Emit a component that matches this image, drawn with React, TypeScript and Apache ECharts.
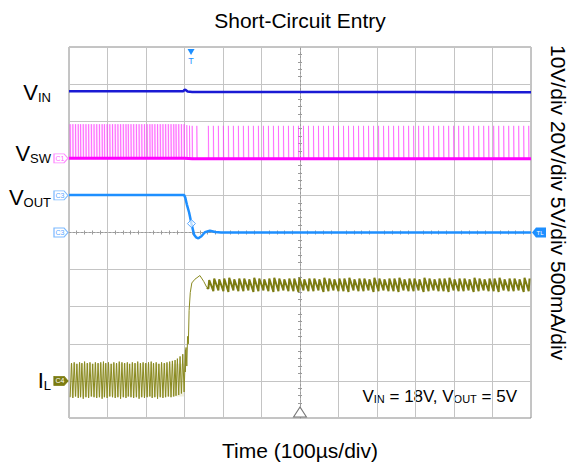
import React, { useEffect, useRef } from "react";
import * as echarts from "echarts";

// ---------- scope settings ----------
const timeMinUs = 0;
const timeMaxUs = 1200;
const timePerDivUs = 100;
const verticalDivs = 10;

const vinVoltsPerDiv = 10;
const vinGroundDiv = 7;
const vswVoltsPerDiv = 20;
const vswGroundDiv = 7;
const voutVoltsPerDiv = 5;
const voutGroundDiv = 5;
const ilAmpsPerDiv = 0.5;
const ilGroundDiv = 1;

const triggerTimeUs = 317;
const centerTimeUs = 600;

// ---------- VIN (V) ----------
const vinPoints: number[][] = [
  [0, 18.1], [150, 18.1], [297, 18.1], [300, 18.5], [303, 18.4], [308, 18.0],
  [320, 17.9], [600, 17.9], [900, 17.85], [1200, 17.8],
];

// ---------- VSW (V) ----------
const vswPreTimes = [
  3, 10, 17, 24, 30, 37, 44, 51, 58, 65, 72, 79, 86, 92, 99, 106, 113, 120, 127, 134, 141, 148,
  154, 161, 168, 175, 182, 189, 196, 203, 210, 216, 223, 230, 237, 244, 251, 258, 265, 272, 278,
  285, 292, 299,
];
const vswPreLevel = 18.4;
const vswEdgePulses: number[][] = [[306, 17.9], [313, 17.6], [320, 17.5], [332, 17.5]];
const vswPostTimes = [
  362, 375, 388, 401, 414, 427, 440, 453, 466, 479, 492, 505, 518, 531, 544, 557, 570, 583, 596,
  609, 622, 635, 648, 661, 674, 687, 700, 713, 726, 739, 752, 765, 778, 791, 804, 817, 830, 843,
  856, 869, 882, 895, 908, 921, 934, 947, 960, 973, 986, 999, 1012, 1025, 1038, 1051, 1064, 1077,
  1090, 1103, 1116, 1129, 1142, 1155, 1168, 1181, 1194,
];
const vswPostLevel = 17.5;
const vswOnTimeUs = 1.2;
const vswBaseline: number[][] = [[0, 0], [300, 0], [320, -0.3], [1200, -0.3]];

// ---------- VOUT (V) ----------
const voutPoints: number[][] = [
  [0, 5.05], [299, 5.05], [302, 4.7], [306, 3.8], [312, 2.7], [318, 1.2], [325, -0.3],
  [330, -0.65], [336, -0.78], [344, -0.5], [353, 0.03], [366, 0.24], [380, 0.06], [395, 0],
  [1200, 0],
];

// ---------- IL (A) ----------
const ilPrePeaks = [
  0.24, 0.25, 0.23, 0.25, 0.24, 0.26, 0.24, 0.25, 0.23, 0.25, 0.24, 0.25, 0.26, 0.24, 0.25, 0.23,
  0.25, 0.24, 0.26, 0.25, 0.24, 0.25, 0.23, 0.25, 0.24, 0.26, 0.24, 0.25, 0.24, 0.25, 0.26, 0.24,
  0.25, 0.23, 0.25, 0.24, 0.25, 0.26, 0.27, 0.28, 0.3, 0.33, 0.36, 0.42,
];
const ilPreValleys = [
  -0.22, -0.23, -0.21, -0.23, -0.22, -0.24, -0.22, -0.23, -0.21, -0.22, -0.23, -0.22, -0.24, -0.22,
  -0.23, -0.21, -0.22, -0.23, -0.22, -0.24, -0.22, -0.23, -0.21, -0.22, -0.23, -0.22, -0.24, -0.22,
  -0.23, -0.22, -0.21, -0.23, -0.22, -0.24, -0.22, -0.23, -0.22, -0.21, -0.22, -0.21, -0.2, -0.19,
  -0.17, -0.15,
];
const ilPrePeakLagUs = 3.5;
const ilPreBandLow = -0.21;
const ilPreBandHigh = 0.23;
const ilRise: number[][] = [
  [302, 0.12], [304, 0.45], [306, 0.2], [308, 0.6], [310, 0.5], [312, 0.95], [315, 1.19],
  [319, 1.32], [327, 1.37], [340, 1.42], [350, 1.34], [358, 1.26],
];
const ilPostPeaks = [
  1.36, 1.38, 1.37, 1.38, 1.39, 1.37, 1.38, 1.38, 1.37, 1.39, 1.38, 1.37, 1.38, 1.39, 1.38, 1.37,
  1.38, 1.38, 1.39, 1.37, 1.38, 1.38, 1.37, 1.39, 1.38, 1.37, 1.38, 1.38, 1.39, 1.37, 1.38, 1.38,
  1.37, 1.39, 1.38, 1.37, 1.38, 1.38, 1.39, 1.37, 1.38, 1.38, 1.37, 1.39, 1.38, 1.37, 1.38, 1.38,
  1.39, 1.37, 1.38, 1.38, 1.37, 1.39, 1.38, 1.37, 1.38, 1.38, 1.39, 1.37, 1.38, 1.38, 1.37, 1.39,
  1.38,
];
const ilPostValleys = [
  1.24, 1.21, 1.22, 1.21, 1.2, 1.22, 1.21, 1.21, 1.22, 1.2, 1.21, 1.22, 1.21, 1.2, 1.21, 1.22,
  1.21, 1.21, 1.2, 1.22, 1.21, 1.21, 1.22, 1.2, 1.21, 1.22, 1.21, 1.21, 1.2, 1.22, 1.21, 1.21,
  1.22, 1.2, 1.21, 1.22, 1.21, 1.21, 1.2, 1.22, 1.21, 1.21, 1.22, 1.2, 1.21, 1.22, 1.21, 1.21,
  1.2, 1.22, 1.21, 1.21, 1.22, 1.2, 1.21, 1.22, 1.21, 1.21, 1.2, 1.22, 1.21, 1.21, 1.22, 1.2,
  1.21,
];
const ilPostRiseUs = 2.2;

// ---------- texts ----------
const titleText = "Short-Circuit Entry";
const xAxisText = "Time (100µs/div)";
const scaleText = "10V/div 20V/div 5V/div 500mA/div";

const FONT = "'Liberation Sans', Arial, Helvetica, sans-serif";
const C_VIN = "#1a1ad4";
const C_VSW = "#ff00ff";
const C_VOUT = "#1e8fff";
const C_IL = "#7c7c12";

function pulseTrain(times: number[], level: number, onUs: number): number[][] {
  const out: number[][] = [];
  times.forEach((t) => {
    out.push([t, 0], [t, level], [t + onUs, level], [t + onUs, 0]);
  });
  return out;
}

function buildOption() {
  const vswPulses: number[][] = [
    ...pulseTrain(vswPreTimes, vswPreLevel, vswOnTimeUs),
  ];
  vswEdgePulses.forEach(([t, l]) => {
    vswPulses.push([t, 0], [t, l], [t + vswOnTimeUs, l], [t + vswOnTimeUs, 0]);
  });
  vswPulses.push(...pulseTrain(vswPostTimes, vswPostLevel, vswOnTimeUs));

  const ilPre: number[][] = [];
  vswPreTimes.forEach((t, i) => {
    ilPre.push([t, ilPreValleys[i]], [t + ilPrePeakLagUs, ilPrePeaks[i]]);
  });
  ilRise.forEach((p) => ilPre.push(p));

  const ilPost: number[][] = [ilRise[ilRise.length - 1]];
  vswPostTimes.forEach((t, i) => {
    ilPost.push([t, ilPostValleys[i]], [t + ilPostRiseUs, ilPostPeaks[i]]);
  });

  const range = (perDiv: number, groundDiv: number) => ({
    min: -groundDiv * perDiv,
    max: (verticalDivs - groundDiv) * perDiv,
  });

  const hiddenY = (perDiv: number, groundDiv: number) => ({
    type: "value",
    show: false,
    ...range(perDiv, groundDiv),
    splitLine: { show: false },
  });

  const chMarker = (coord: number[], text: string, border: string, fill: string, textColor: string) => ({
    coord,
    symbol: "path://M0,0L10,0L14,5L10,10L0,10Z",
    symbolSize: [14, 9],
    symbolOffset: [-8, 0],
    itemStyle: { color: fill, borderColor: border, borderWidth: 1 },
    label: {
      show: true,
      position: "inside",
      formatter: text,
      fontSize: 7,
      color: textColor,
      fontFamily: FONT,
      offset: [-1, 0],
    },
  });

  const centerLine = { show: true, lineStyle: { color: "#9a9a9a", type: [2, 2], width: 1 }, onZero: false };

  const vinRange = range(vinVoltsPerDiv, vinGroundDiv);
  const voutRange = range(voutVoltsPerDiv, voutGroundDiv);

  return {
    animation: false,
    backgroundColor: "#ffffff",
    grid: {
      show: true,
      left: 69,
      top: 47,
      width: 462,
      height: 371,
      borderColor: "#8a8a8a",
      borderWidth: 1,
    },
    xAxis: [
      {
        type: "value",
        min: timeMinUs,
        max: timeMaxUs,
        interval: timePerDivUs,
        axisLine: { show: false, onZero: false },
        axisTick: { show: false },
        axisLabel: { show: false },
        splitLine: { show: true, lineStyle: { color: "#c4c4c4", width: 1 } },
      },
      {
        type: "value",
        min: timeMinUs,
        max: timeMaxUs,
        interval: timePerDivUs,
        position: "bottom",
        offset: -185.5,
        axisLine: centerLine,
        axisTick: { show: false },
        minorTick: { show: true, splitNumber: 5, length: 2, lineStyle: { color: "#9a9a9a" } },
        axisLabel: { show: false },
        splitLine: { show: false },
      },
      {
        type: "value",
        min: timeMinUs,
        max: timeMaxUs,
        interval: timePerDivUs,
        position: "bottom",
        offset: -185.5,
        axisLine: { show: false, onZero: false },
        axisTick: { show: false, inside: true },
        minorTick: { show: true, splitNumber: 5, length: 2, lineStyle: { color: "#9a9a9a" } },
        axisLabel: { show: false },
        splitLine: { show: false },
      },
    ],
    yAxis: [
      {
        type: "value",
        min: 0,
        max: verticalDivs,
        interval: 1,
        axisLine: { show: false, onZero: false },
        axisTick: { show: false },
        axisLabel: { show: false },
        splitLine: { show: true, lineStyle: { color: "#c4c4c4", width: 1 } },
      },
      hiddenY(vinVoltsPerDiv, vinGroundDiv),
      hiddenY(vswVoltsPerDiv, vswGroundDiv),
      hiddenY(voutVoltsPerDiv, voutGroundDiv),
      hiddenY(ilAmpsPerDiv, ilGroundDiv),
      {
        type: "value",
        min: 0,
        max: verticalDivs,
        interval: 1,
        position: "left",
        offset: -231,
        axisLine: centerLine,
        axisTick: { show: false },
        minorTick: { show: true, splitNumber: 5, length: 2, lineStyle: { color: "#9a9a9a" } },
        axisLabel: { show: false },
        splitLine: { show: false },
      },
      {
        type: "value",
        min: 0,
        max: verticalDivs,
        interval: 1,
        position: "left",
        offset: -231,
        axisLine: { show: false, onZero: false },
        axisTick: { show: false, inside: true },
        minorTick: { show: true, splitNumber: 5, length: 2, lineStyle: { color: "#9a9a9a" } },
        axisLabel: { show: false },
        splitLine: { show: false },
      },
    ],
    graphic: [
      {
        type: "text",
        x: 300,
        y: 20,
        style: {
          text: titleText,
          fontSize: 21,
          fontFamily: FONT,
          fill: "#000",
          align: "center",
          verticalAlign: "middle",
          textAlign: "center",
          textVerticalAlign: "middle",
        },
      },
      {
        type: "text",
        x: 300,
        y: 450,
        style: {
          text: xAxisText,
          fontSize: 21,
          fontFamily: FONT,
          fill: "#000",
          align: "center",
          verticalAlign: "middle",
          textAlign: "center",
          textVerticalAlign: "middle",
        },
      },
      {
        type: "text",
        x: 558,
        y: 45,
        rotation: -Math.PI / 2,
        style: {
          text: scaleText,
          fontSize: 21,
          fontFamily: FONT,
          fill: "#000",
          align: "left",
          verticalAlign: "middle",
          textAlign: "left",
          textVerticalAlign: "middle",
        },
      },
      ...[
        ["V", "IN", 92.5],
        ["V", "SW", 153.5],
        ["V", "OUT", 197.5],
        ["I", "L", 380.5],
      ].map(([m, s, y]) => ({
        type: "text",
        x: 51,
        y: y as number,
        style: {
          text: `{m|${m}}{s|${s}}`,
          align: "right",
          verticalAlign: "middle",
          textAlign: "right",
          textVerticalAlign: "middle",
          rich: {
            m: { fontSize: 22, fontFamily: FONT, fill: "#000", verticalAlign: "bottom" },
            s: { fontSize: 13, fontFamily: FONT, fill: "#000", verticalAlign: "bottom" },
          },
        },
      })),
      {
        type: "text",
        x: 517,
        y: 396,
        style: {
          text: "{m|V}{s|IN}{m| = 18V, V}{s|OUT}{m| = 5V}",
          align: "right",
          verticalAlign: "middle",
          textAlign: "right",
          textVerticalAlign: "middle",
          rich: {
            m: { fontSize: 17, fontFamily: FONT, fill: "#000", verticalAlign: "bottom" },
            s: { fontSize: 11, fontFamily: FONT, fill: "#000", verticalAlign: "bottom" },
          },
        },
      },
    ],
    series: [
      {
        name: "VSW band",
        type: "line",
        xAxisIndex: 0,
        yAxisIndex: 2,
        symbol: "none",
        silent: true,
        data: [
          [vswPreTimes[0], vswPreLevel],
          [vswPreTimes[vswPreTimes.length - 1] + vswOnTimeUs, vswPreLevel],
        ],
        lineStyle: { opacity: 0, width: 0 },
        areaStyle: { origin: 0, color: "rgba(255,110,255,0.16)" },
      },
      {
        name: "VSW pulses",
        type: "line",
        xAxisIndex: 0,
        yAxisIndex: 2,
        symbol: "none",
        silent: true,
        data: vswPulses,
        lineStyle: { color: "rgba(255,60,255,0.5)", width: 1 },
      },
      {
        name: "VSW",
        type: "line",
        xAxisIndex: 0,
        yAxisIndex: 2,
        symbol: "none",
        silent: true,
        data: vswBaseline,
        lineStyle: { color: C_VSW, width: 3 },
        markPoint: {
          silent: true,
          data: [chMarker([timeMinUs, 0], "C1", "#ff88ff", "#ffffff", "#ff66ff")],
        },
      },
      {
        name: "VIN",
        type: "line",
        xAxisIndex: 0,
        yAxisIndex: 1,
        symbol: "none",
        silent: true,
        data: vinPoints,
        lineStyle: { color: C_VIN, width: 2.5 },
        markPoint: {
          silent: true,
          data: [
            {
              coord: [centerTimeUs, vinRange.min],
              symbol: "triangle",
              symbolSize: [13, 10],
              symbolOffset: [0, -6],
              itemStyle: { color: "#ffffff", borderColor: "#777777", borderWidth: 1 },
              label: { show: false },
            },
          ],
        },
      },
      {
        name: "VOUT",
        type: "line",
        xAxisIndex: 0,
        yAxisIndex: 3,
        symbol: "none",
        silent: true,
        data: voutPoints,
        lineStyle: { color: C_VOUT, width: 2.5 },
        markPoint: {
          silent: true,
          data: [
            chMarker([timeMinUs, 5], "C3", "#7dbaff", "#ffffff", "#5aa8ff"),
            chMarker([timeMinUs, 0], "C3", "#7dbaff", "#ffffff", "#5aa8ff"),
            {
              coord: [318, 1.2],
              symbol: "diamond",
              symbolSize: 8,
              itemStyle: { color: "rgba(255,255,255,0.7)", borderColor: "#5aa8ff", borderWidth: 1 },
              label: { show: false },
            },
            {
              coord: [timeMaxUs, 0],
              symbol: "path://M4,0L14,0L14,10L4,10L0,5Z",
              symbolSize: [14, 10],
              symbolOffset: [8, 0],
              itemStyle: { color: C_VOUT },
              label: {
                show: true,
                position: "inside",
                formatter: "TL",
                fontSize: 6,
                color: "#ffffff",
                fontFamily: FONT,
                offset: [1, 0],
              },
            },
            {
              coord: [triggerTimeUs, voutRange.max],
              symbol: "path://M0,0L10,0L5,7Z",
              symbolSize: [7, 6],
              symbolOffset: [0, 5],
              itemStyle: { color: C_VOUT },
              label: {
                show: true,
                position: "bottom",
                distance: 1,
                formatter: "T",
                fontSize: 9,
                color: C_VOUT,
                fontFamily: FONT,
              },
            },
          ],
        },
      },
      {
        name: "IL band",
        type: "line",
        xAxisIndex: 0,
        yAxisIndex: 4,
        symbol: "none",
        silent: true,
        data: [
          [vswPreTimes[0], ilPreBandHigh],
          [vswPreTimes[vswPreTimes.length - 1], ilPreBandHigh],
        ],
        lineStyle: { opacity: 0, width: 0 },
        areaStyle: { origin: ilPreBandLow, color: "rgba(180,180,90,0.28)" },
      },
      {
        name: "IL pre",
        type: "line",
        xAxisIndex: 0,
        yAxisIndex: 4,
        symbol: "none",
        silent: true,
        data: ilPre,
        lineStyle: { color: "#8a8a20", width: 1 },
      },
      {
        name: "IL",
        type: "line",
        xAxisIndex: 0,
        yAxisIndex: 4,
        symbol: "none",
        silent: true,
        data: ilPost,
        lineStyle: { color: C_IL, width: 2 },
        markPoint: {
          silent: true,
          data: [chMarker([timeMinUs, 0], "C4", C_IL, C_IL, "#ffffff")],
        },
      },
    ],
  };
}

export default function App() {
  const ref = useRef<HTMLDivElement | null>(null);
  useEffect(() => {
    if (!ref.current) return;
    const chart = echarts.init(ref.current, null, { renderer: "svg" });
    chart.setOption(buildOption() as any);
    return () => chart.dispose();
  }, []);
  return (
    <div
      ref={ref}
      style={{ position: "fixed", left: 0, top: 0, width: 571, height: 466, background: "#fff" }}
    />
  );
}
